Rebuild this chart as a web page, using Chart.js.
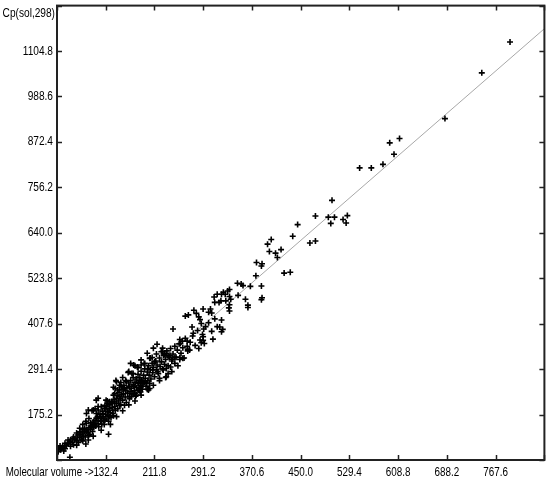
<!DOCTYPE html>
<html>
<head>
<meta charset="utf-8">
<script src="https://cdn.jsdelivr.net/npm/chart.js@4/dist/chart.umd.min.js"></script>
<style>
html,body{margin:0;padding:0;background:#fff;}
#wrap{width:550px;height:481px;}
</style>
</head>
<body>
<div id="wrap"><canvas id="c" width="550" height="481"></canvas></div>
<script>
// Axis names
const xName = "Molecular volume ->";
const yName = "Cp(sol,298)";

// Tick values
const xTicks = [53.0, 132.4, 211.8, 291.2, 370.6, 450.0, 529.4, 608.8, 688.2, 767.6, 847.0];
const yTicks = [59.0, 175.2, 291.4, 407.6, 523.8, 640.0, 756.2, 872.4, 988.6, 1104.8, 1221.0];

// Fitted line endpoints
const fitX = [53, 847];
const fitY = [79, 1162];

// Observations: molecular volume
const volX = [
791,745,685,611,595,602,584,565,546,501,474,495,505,499,526,519,524,445,437,402,
396,399,409,418,412,465,474,378,387,386,377,423,433,347,353,356,368,386,324,331,
334,348,360,334,336,387,386,364,364,320,328,334,333,327,321,314,309,317,310,334,
303,300,305,291,280,284,267,262,276,286,288,273,275,292,242,321,318,323,321,307,
291,291,293,288,284,265,257,253,254,269,216,225,231,237,245,253,258,265,266,223,
228,234,241,253,173,178,184,190,196,204,208,212,169,177,201,209,217,226,231,238,
245,234,231,220,188,193,199,204,204,189,189,202,149,157,148,155,163,171,177,133,
139,147,155,163,125,131,182,171,177,137,74,56,59,55,66,71,74,79,85,95,
104,104,87,90,95,98,101,109,114,108,101,117,123,117,101,112,104,120,131,136,
120,117,144,150,155,147,152,158,166,150,131,139,144,136,128,174,180,185,190,193,
185,
62,66,68,72,75,78,80,82,85,86,88,90,92,93,95,96,98,99,102,104,
105,106,108,110,111,112,113,115,116,118,119,120,121,123,124,125,126,127,128,129,
131,132,133,134,135,136,137,138,139,140,141,142,143,144,145,146,147,148,150,151,
152,153,154,156,157,158,159,160,161,162,164,165,166,167,168,170,171,172,173,174,
175,177,178,179,180,181,182,183,185,186,187,188,189,190,191,192,194,195,196,197,
198,200,201,202,203,205,206,208,209,210,212,214,215,216,218,220,221,223,225,227,
228,230,232,234,236,238,240,242,245,247,249,252,255,258,262,266,270,274,278,282,
286,290,295,300,305,310,314,
110,115,120,125,130,135,140,145,150,155,160,165,170,175,180,185,190,195,200,205,
210,215,220,225,230,240,250,260,100,105,95,90,85,80,75,70,65,60,58,64,
100,112,145,160,170,180,190,200,210
];

// Observations: Cp(sol,298)
const cpY = [
1128,1049,932,881,870,841,815,806,806,723,683,680,680,664,684,674,665,661,631,623,
611,592,588,597,577,614,619,564,561,555,530,537,539,511,509,505,503,504,488,491,
495,480,470,477,470,474,469,455,449,466,466,456,448,483,483,483,476,462,462,440,
445,437,435,445,434,425,430,427,442,418,408,399,383,394,394,417,399,393,387,368,
374,365,357,359,344,363,363,367,357,340,355,337,332,327,321,321,319,350,338,336,
329,325,317,316,306,302,297,302,306,319,321,310,283,280,293,289,285,289,293,297,
306,280,272,268,263,259,255,255,242,242,233,238,262,257,242,238,242,246,251,212,
208,204,199,199,195,191,225,221,229,125,66,89,85,80,102,110,106,114,97,108,
110,121,123,131,136,140,131,144,150,154,153,166,170,178,178,187,187,187,199,204,
217,212,208,217,221,229,238,246,259,259,161,170,178,182,178,221,229,238,246,255,
255,
92,88,96,100,94,104,98,112,108,118,104,116,124,112,128,120,132,118,136,128,
142,124,138,148,132,156,142,160,146,152,170,160,144,176,158,166,150,184,170,160,
190,176,164,196,184,172,158,190,200,180,168,208,194,186,172,214,196,186,204,224,
190,210,232,216,200,226,240,212,228,250,220,236,206,244,230,256,216,234,262,242,
228,270,248,236,258,222,266,244,278,256,236,270,250,286,262,240,276,258,292,268,
248,284,262,300,276,290,266,306,282,296,272,312,290,302,280,320,298,310,292,326,
304,316,338,300,322,344,312,330,350,322,340,356,332,346,370,342,360,376,352,390,
366,380,400,410,388,420,400,
185,190,196,135,150,210,150,225,170,250,185,262,200,280,210,295,225,305,240,320,
250,330,262,345,270,285,300,320,158,165,150,140,128,118,110,102,95,90,95,82,
100,120,245,270,285,300,315,332,345
];

const scatterPts = volX.map((v, i) => ({x: v, y: cpY[i]}));
const fitPts = fitX.map((v, i) => ({x: v, y: fitY[i]}));

const FONT = "'Liberation Sans', Arial, sans-serif";

function label(ctx, text, x, y, align, sq) {
  ctx.save();
  ctx.translate(x, y);
  ctx.scale(sq, 1);
  ctx.textAlign = align;
  ctx.fillText(text, 0, 0);
  ctx.restore();
}

const frame = {
  id: 'frame',
  afterDraw(chart) {
    const {ctx, chartArea: a, scales: {x, y}} = chart;
    ctx.save();
    ctx.strokeStyle = '#222';
    ctx.lineWidth = 1.5;
    ctx.beginPath();
    xTicks.forEach(v => {
      const p = Math.round(x.getPixelForValue(v)) + 0.5;
      ctx.moveTo(p, a.bottom); ctx.lineTo(p, a.bottom - 5);
      ctx.moveTo(p, a.top); ctx.lineTo(p, a.top + 5);
    });
    yTicks.forEach(v => {
      const p = Math.round(y.getPixelForValue(v)) + 0.5;
      ctx.moveTo(a.left, p); ctx.lineTo(a.left + 5, p);
      ctx.moveTo(a.right, p); ctx.lineTo(a.right - 5, p);
    });
    ctx.stroke();
    ctx.lineWidth = 2;
    ctx.strokeRect(a.left, a.top, a.right - a.left, a.bottom - a.top);

    ctx.fillStyle = '#000';
    ctx.font = '13px ' + FONT;
    ctx.textBaseline = 'middle';
    // tick labels (first and last omitted, as in the original)
    xTicks.forEach((v, i) => {
      if (i === 0 || i === xTicks.length - 1) return;
      label(ctx, v.toFixed(1), x.getPixelForValue(v), a.bottom + 12, 'center', 0.76);
    });
    yTicks.forEach((v, i) => {
      if (i === 0 || i === yTicks.length - 1) return;
      label(ctx, v.toFixed(1), a.left - 4, y.getPixelForValue(v), 'right', 0.78);
    });
    label(ctx, yName, a.left - 2, a.top + 8, 'right', 0.78);
    label(ctx, xName, x.getPixelForValue(xTicks[1]) - 12, a.bottom + 12, 'right', 0.75);
    ctx.restore();
  }
};

new Chart(document.getElementById('c'), {
  type: 'scatter',
  data: {
    datasets: [
      {
        type: 'line',
        data: fitPts,
        borderColor: '#a8a8a8',
        borderWidth: 1,
        pointRadius: 0,
        fill: false,
        order: 2
      },
      {
        data: scatterPts,
        pointStyle: 'cross',
        pointRadius: 3,
        borderColor: '#000',
        backgroundColor: '#000',
        pointBorderWidth: 1.6,
        borderWidth: 1.6,
        order: 1
      }
    ]
  },
  options: {
    responsive: false,
    animation: false,
    devicePixelRatio: 1,
    layout: {padding: {top: 5, right: 5, left: 0, bottom: 0}},
    plugins: {legend: {display: false}, tooltip: {enabled: false}},
    scales: {
      x: {
        type: 'linear',
        min: 53,
        max: 847,
        afterBuildTicks: s => { s.ticks = xTicks.map(v => ({value: v})); },
        afterFit: s => { s.height = 21; },
        grid: {display: false, drawTicks: false},
        border: {display: false},
        ticks: {display: false}
      },
      y: {
        type: 'linear',
        min: 59,
        max: 1221,
        afterBuildTicks: s => { s.ticks = yTicks.map(v => ({value: v})); },
        afterFit: s => { s.width = 57; },
        grid: {display: false, drawTicks: false},
        border: {display: false},
        ticks: {display: false}
      }
    }
  },
  plugins: [frame]
});
</script>
</body>
</html>
